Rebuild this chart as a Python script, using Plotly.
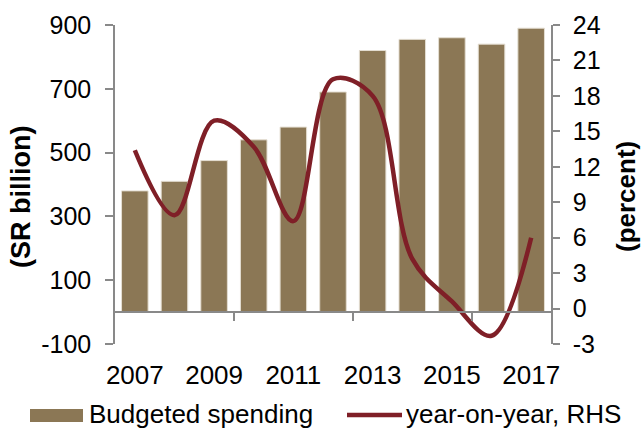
import plotly.graph_objects as go

# Budget data
years = [2007, 2008, 2009, 2010, 2011, 2012, 2013, 2014, 2015, 2016, 2017]
budgeted_spending = [380, 410, 475, 540, 580, 690, 820, 855, 860, 840, 890]  # SR billion
yoy_growth = [13.4, 7.9, 15.9, 13.7, 7.4, 19.4, 18.0, 4.2, 0.6, -2.3, 6.0]  # percent

left_ticks = [-100, 100, 300, 500, 700, 900]
right_ticks = [-3, 0, 3, 6, 9, 12, 15, 18, 21, 24]
year_labels = [2007, 2009, 2011, 2013, 2015, 2017]
boundary_ticks = [2009.5, 2012.5, 2015.5]

BAR_COLOR = "#8B7755"
LINE_COLOR = "#7F1F27"
AXIS_COLOR = "#898989"
FONT = "Liberation Sans, Arial, sans-serif"

W, H = 641, 428
M_L, M_R, M_T, M_B = 115, 90, 25, 84
PW, PH = W - M_L - M_R, H - M_T - M_B


def px_x(x):
    return (x - M_L) / PW


def px_y(y):
    return (H - M_B - y) / PH


def plain_labels(values):
    # hyphen-minus for negatives, as in the printed scale
    return [str(v) for v in values]


fig = go.Figure()

fig.add_trace(go.Bar(
    x=years, y=budgeted_spending, name="Budgeted spending",
    width=0.67, marker=dict(color=BAR_COLOR, line=dict(color="#E4DED2", width=1)),
    yaxis="y", showlegend=False,
))

fig.add_trace(go.Scatter(
    x=years, y=yoy_growth, name="year-on-year, RHS", mode="lines",
    line=dict(color=LINE_COLOR, width=4.5, shape="spline", smoothing=1.0),
    yaxis="y2", showlegend=False,
))

# horizontal position of the category axis: zero of the left scale
zero_pos = (0 - left_ticks[0]) / (left_ticks[-1] - left_ticks[0])

fig.update_layout(
    width=W, height=H,
    margin=dict(l=M_L, r=M_R, t=M_T, b=M_B),
    paper_bgcolor="white", plot_bgcolor="white",
    font=dict(family=FONT, size=25, color="black"),
    bargap=0.33,
    xaxis=dict(
        type="linear", range=[2006.5, 2017.5], domain=[0, 1],
        anchor="free", position=zero_pos,
        showline=True, linecolor=AXIS_COLOR, linewidth=1.5,
        tickmode="array", tickvals=year_labels, ticks="",
        ticklabelstandoff=40, tickfont=dict(size=26),
        showgrid=False, zeroline=False,
        minor=dict(tickmode="array", tickvals=boundary_ticks, ticks="outside",
                   ticklen=8, tickcolor=AXIS_COLOR, tickwidth=1.5, showgrid=False),
    ),
    yaxis=dict(
        range=[left_ticks[0], left_ticks[-1]], tickmode="array", tickvals=left_ticks,
        ticktext=plain_labels(left_ticks), ticklabelstandoff=9,
        ticks="outside", ticklen=8, tickcolor=AXIS_COLOR, tickwidth=1.5,
        showline=True, linecolor=AXIS_COLOR, linewidth=1.5,
        showgrid=False, zeroline=False, anchor="x",
    ),
    yaxis2=dict(
        range=[right_ticks[0], right_ticks[-1]], tickmode="array", tickvals=right_ticks,
        ticktext=plain_labels(right_ticks), ticklabelstandoff=8,
        overlaying="y", side="right", anchor="x",
        ticks="outside", ticklen=7, tickcolor=AXIS_COLOR, tickwidth=1.5,
        showline=True, linecolor=AXIS_COLOR, linewidth=1.5,
        showgrid=False, zeroline=False,
    ),
)

# axis titles
fig.add_annotation(text="<b>(SR billion)</b>", textangle=-90, xref="paper", yref="paper",
                   x=px_x(21), y=px_y(197), xanchor="center", yanchor="middle",
                   showarrow=False, font=dict(size=27))
fig.add_annotation(text="<b>(percent)</b>", textangle=-90, xref="paper", yref="paper",
                   x=px_x(626), y=px_y(197), xanchor="center", yanchor="middle",
                   showarrow=False, font=dict(size=26))

# legend
fig.add_shape(type="rect", xref="paper", yref="paper",
              x0=px_x(30), x1=px_x(83), y0=px_y(409), y1=px_y(422),
              fillcolor=BAR_COLOR, line=dict(width=0))
fig.add_annotation(text="Budgeted spending", xref="paper", yref="paper",
                   x=px_x(87), y=px_y(414), xanchor="left", yanchor="middle",
                   showarrow=False, font=dict(size=26))
fig.add_shape(type="line", xref="paper", yref="paper",
              x0=px_x(347), x1=px_x(402), y0=px_y(415), y1=px_y(415),
              line=dict(color=LINE_COLOR, width=4.5))
fig.add_annotation(text="year-on-year, RHS", xref="paper", yref="paper",
                   x=px_x(404), y=px_y(414), xanchor="left", yanchor="middle",
                   showarrow=False, font=dict(size=26))

fig.write_html("out.html")
